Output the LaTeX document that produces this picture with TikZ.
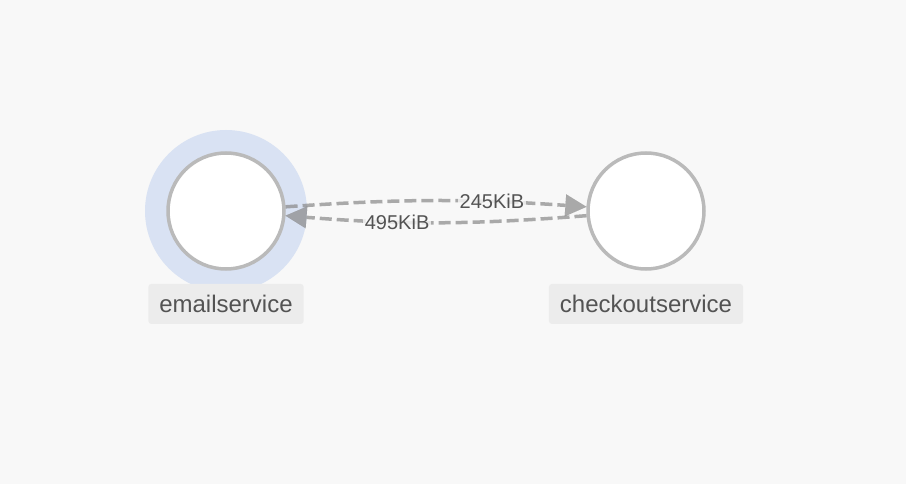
\documentclass[tikz,border=0pt]{standalone}
\usepackage{fontspec}
\setmainfont{Liberation Sans}
\usetikzlibrary{arrows.meta}
\usetikzlibrary{positioning}
\pgfdeclarelayer{background1}
\pgfdeclarelayer{background2}
\pgfsetlayers{background2,background1,main}

\begin{document}
\begin{tikzpicture}[x=1pt,y=-1pt]

	\definecolor{bgcolor}{HTML}{F8F8F8}
	\definecolor{halocolor}{HTML}{D9E2F3}
	\definecolor{ringcolor}{HTML}{BABABA}
	\definecolor{edgecolor}{HTML}{888888}
	\definecolor{boxcolor}{HTML}{ECECEC}
	\definecolor{textcolor}{HTML}{535353}

	\tikzset{
		service/.style={circle,minimum size=116pt,inner sep=0pt,line width=3.5pt,draw=ringcolor,fill=white},
		labelbox/.style={fill=boxcolor,rounded corners=3pt,minimum height=40pt,inner xsep=11pt,text=textcolor,font=\fontsize{24}{28}\selectfont},
		edge/.style={draw=edgecolor,draw opacity=0.7,fill opacity=0.7,line width=3.5pt,dash pattern=on 12pt off 5pt,-{Triangle[length=21pt,width=22pt,line width=0.01pt,fill=edgecolor]}},
		edgelabel/.style={fill=bgcolor,fill opacity=0.8,text opacity=1,inner sep=2pt,text=textcolor,font=\fontsize{20}{24}\selectfont}
	}

	\begin{pgfonlayer}{background2}
		\useasboundingbox[fill=bgcolor] (0,0) rectangle (906,484);
	\end{pgfonlayer}

	\node(email)[service] at (226,211){};
	\node(checkout)[right=300.5pt of email,service]{};

	\begin{pgfonlayer}{background1}
		\node(halo)[circle,minimum size=162pt,inner sep=0pt,fill=halocolor] at (email){};
	\end{pgfonlayer}

	\node(emaillabel)[below=13pt of email,labelbox]{emailservice};
	\node(checkoutlabel)[below=13pt of checkout,labelbox]{checkoutservice};

	\draw[edge] (email) to[bend left=4] node[pos=0.70,edgelabel]{245KiB} (checkout);
	\draw[edge] (checkout) to[bend left=4.5] node[pos=0.64,edgelabel]{495KiB} (email);

\end{tikzpicture}
\end{document}
